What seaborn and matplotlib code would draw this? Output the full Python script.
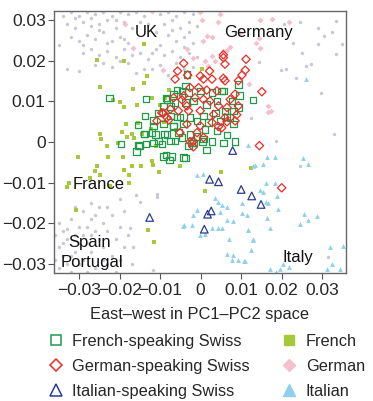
import numpy as np
import pandas as pd
import matplotlib
matplotlib.use("Agg")
import matplotlib.pyplot as plt
import seaborn as sns
from matplotlib.lines import Line2D

# all coordinates in units of 0.001 (PC1-PC2 space)
gray_pts = [
    (-34, 31), (-32, 32), (-30, 31), (-28, 32), (-26, 31.5), (-24, 32), (-22, 31), (-20, 32), (-18, 31.5),
    (-16, 32), (-14, 31), (-10, 31.5), (-8, 32), (-6, 31), (-4, 32), (-2, 31.5),
    (-33, 29), (-31, 28), (-29, 29.5), (-27, 28.5), (-25, 29), (-23, 30), (-21, 28), (-19, 29.5), (-17, 28),
    (-15, 29.5), (-9, 29), (-7, 30), (-5, 28), (-3, 29.5), (-1, 28.5),
    (-32, 26), (-30, 25), (-28, 26.5), (-26, 25.5), (-24, 27), (-22, 25), (-20, 26), (-18, 24.5), (-8, 26.5),
    (-6, 25), (-4, 26), (-2, 24.5), (-10, 24),
    (-29, 22), (-27, 23), (-25, 21.5), (-23, 22.5), (-21, 21), (-19, 23), (-17, 21.5), (-15, 22), (-13, 20.5),
    (-11, 23), (-9, 21.5), (-7, 22.5), (-5, 21), (-3, 22),
    (-26, 19), (-22, 18.5), (-18, 19.5), (-14, 18), (-10, 19), (-6, 19.5), (-2, 18.5), (-16, 17), (-8, 16.5),
    (-33, 18), (-30, 17.5), (-35, 24),
    (-31, 30.5), (-27, 30.5), (-21, 30), (-13, 29), (-11, 27), (-7, 27.5), (-3, 27), (-25, 27.5), (-29, 24),
    (-23, 24.5), (-19, 25.5), (-12, 22), (-4, 23.5), (-1, 21), (-20, 20), (-24, 19.5), (-12, 18), (-4, 18),
    (20.6, 29.2), (24.4, 29.5), (28.9, 28.2), (33.5, 29.9), (22.8, 24.5), (30.5, 26.2), (28.9, 24.1), (35, 24.2),
    (33.5, 21.7), (26, 18.8), (27.3, 19.2), (19.9, 17.8), (21.1, 18), (23.6, 15.9), (29.8, 12.2), (12.5, 6),
    (14.5, 19.6), (33, 1.9), (18.6, 0.3), (25, 21.9), (32.4, 27.2), (24.4, -5.9), (31.4, -28.3),
    (-35, -20), (-34, -22), (-33, -24), (-35, -26), (-34, -28), (-33, -30), (-35, -31), (-32, -32), (-31, -27),
    (-30, -25), (-29, -23), (-28, -21), (-27, -19), (-29, -17), (-27, -15), (-25, -16), (-26, -18), (-24, -20),
    (-23, -22), (-25, -24), (-24, -26), (-22, -28), (-23, -30), (-21, -32), (-20, -29), (-19, -26), (-21, -24),
    (-20, -21), (-22, -18), (-19, -17), (-18, -23), (-17, -30), (-32, -19), (-30, -21), (-31, -23), (-28, -25),
    (-27, -27), (-29, -29), (-26, -31), (-28, -32), (-33, -21.5), (-34, -25), (-32, -28), (-30, -30), (-36, -29),
    (-36, -23), (-26, -22), (-24, -29), (-31, -16), (-20, -14), (-23, -16), (-27, -23),
    (-16, -13), (-14.9, -14.7), (-17.4, -21.2), (-16.6, -25.9), (-11.7, -31.6), (-10.8, -12.7), (-10.8, -13.5),
]

pink_pts = [
    (-0.1, 32.1), (4.8, 31.5), (4.4, 29.5), (1.5, 26.2), (2.8, 25.8), (0.7, 24.9), (1.1, 20), (3.6, 20),
    (5.6, 22.5), (7.3, 23.3), (-1.8, 20.8), (1.9, 18.8), (-3.4, 22.9), (-12, 32.2), (-18.6, 29.1),
    (-16.6, 23.1), (-9.2, 17.8), (0.3, 30.1), (9.8, 26.8), (14.7, 30.1), (17.6, 30.3), (21.7, 29.7),
    (14.3, 25.6), (13.7, 24.4), (14.7, 23.1), (6.5, 22.7), (2.8, 21.1), (16.7, 7.5), (12, 14.2),
    (16.6, 8.9), (17.4, 7.7),
]

french_pts = [
    (-14.1, 24.1), (-25.5, 20.2), (-18.9, 20), (-24.8, 13.6), (-16.6, 13), (-13.9, 14.6), (-13.3, 16.3),
    (-21.6, 10.3), (-19.9, 9.95), (-18.9, 8.6), (-15.6, 9.2), (-11.9, 10.8), (-7.9, 12.8), (-8.8, 10.8),
    (-15.4, 4.8), (-19.3, 2.5), (-18.1, 1.2), (-24.8, 1.9), (-24.6, 0.7), (-16.4, 0.9), (-14.4, 1.9),
    (-12.3, 3.1), (-20.5, -0.2), (-23, -1), (-30.3, -3.6), (-22.8, -3.6), (-25.6, -5.9), (-26, -7.2),
    (-24.8, -8.1), (-27.3, -9), (-32.6, -10.2), (-33, -11), (-22.3, -10.9), (-19.1, -3.6), (-18.9, -6.9),
    (-17.8, -8.1), (-17, -5.9), (-17.8, -10.2), (-14.8, -5.9), (-12, -4.6), (-11.7, -5.7), (-10.2, -7.3),
    (-5, -5.9), (-30.7, -16.8), (-12.9, -21.7), (-11.5, -24.6), (5, -7.5), (1.1, -12), (12.5, -6.5),
    (0.3, 17.9), (-10, 9), (-9, 5), (-6, 3), (-11, -1), (-17, 2), (-18.5, 4.5),
]

italian_pts = [
    (0.7, -8), (-0.9, -8.1), (3.6, -13.9), (4.4, -14.7), (5.2, -15.6), (6.5, -16), (4.8, -17.2), (-0.9, -16.8),
    (-1.8, -18), (-4.2, -20.5), (-2.2, -20.5), (-0.1, -23), (1.1, -22.8), (2.8, -21.3), (4.4, -21.1),
    (5.2, -21.1), (6.5, -19.3), (8.1, -19.4), (10.2, -15.1), (10.2, -17.6), (11.4, -18), (11.6, -21.7),
    (7, -23.8), (6.6, -27.7), (8.1, -27.9), (7.7, -29.1), (9.3, -29.1), (10.6, -29.3), (14.7, -11.9),
    (16.2, -10.2), (18.4, -10.2), (18.8, -13.3), (16.7, -15), (19.2, -16.4), (13.5, -5.7), (16.3, -3.8),
    (18.4, -3.8), (11.6, -0.7), (16.3, -18.8), (17.2, -21.1), (11.8, -21.7), (13, -24), (11, -29.3),
    (17.2, -31.4), (21.7, -30.8), (24.6, -20.1), (26.6, -19.3), (25.4, -17.8), (28.7, -18.3), (25.2, -4),
    (26.6, -5.4), (32, -26), (35.1, -25.7), (31.2, -31.2), (32.4, -30), (34.3, -31.2), (15.4, -5.4),
    (12.9, -5.9), (15.4, -12.3), (16.2, -14.7), (12.9, -24.2), (12.5, -26.7), (19.5, -31.2), (20.3, -30),
    (26, 15.5), (-4.4, -20.7), (18.5, -32),
]

fr_swiss_pts = [
    (-22.5, 10.9), (-13.5, 10.6), (-8.6, 10.9), (-7.5, 8.7), (-13.7, 6.4), (-11.7, 5.3), (-15.5, 4.2), (-14, 2),
    (-12, 2.3), (-19.7, -0.5), (-15.4, -0.9), (-13.5, -0.5), (-9.6, -0.5), (-8.9, 2), (-6.7, 3.8), (-5.9, 6.2),
    (-5.9, 12.8), (-3.4, 16.7), (9.3, 14.2), (5.2, 12.6), (2.8, 12.2), (-0.1, 12.6), (-3, 12.2), (-4.6, 12.6),
    (-6.7, 11.8), (-8.3, 10.5), (7.7, 10.1), (4, 10.1), (1.5, 9.3), (-1.8, 10.1), (-3.8, 9.7), (-6.3, 9.7),
    (-9.2, 8.9), (-10.4, 7.2), (-7.5, 6.4), (-5.1, 6.2), (-2.6, 6), (0.7, 6.4), (3.6, 7.2), (6, 7.7), (7.3, 6),
    (8.1, 4.4), (4.8, 5.2), (1.9, 4.8), (-0.9, 5.2), (-4.2, 4.4), (-6.7, 4), (-9.2, 4.4), (-11.7, 4),
    (-11.2, 1.9), (-8.3, 1.9), (-5.5, 2.3), (-2.6, 1.9), (1.1, 3.1), (4, 2.7), (0.7, 0.7), (-2.2, -0.2),
    (-4.6, 1.1), (-7.5, 0.2), (-10.4, 0.2), (12.9, 10.3), (-3.8, 13.8), (5.6, 12.6), (9.6, 11.4), (9.3, 8.5),
    (8.1, 7.7), (6.5, 6.2), (6.5, 1.7), (8.5, 0.1), (5.6, -0.3), (2.8, 0.1), (0.5, 0.1), (-0.9, 1.3),
    (-11.7, -0.2), (-6.3, 0.3), (-8.5, -3.2), (-7.7, -4.4), (-7.1, -3.6), (-4.2, -3.8), (-1.8, -0.3),
    (1.5, -2), (-3, -1), (-3.8, -4), (-9.2, -3.6), (-15.1, -1), (-15.8, -2.4), (-13.8, 2.0),
]

de_swiss_pts = [
    (-4.2, 19.4), (2.2, 17.5), (5.6, 20.8), (6, 19.2), (11.2, 20.4), (11, 17.7), (-5.7, 17.5), (-0.1, 16.3),
    (0.7, 15.5), (2.8, 15.5), (6, 15.1), (9.3, 15.1), (8.5, 11.8), (9.3, 8.9), (7.3, 10.5), (-6.3, 15.5),
    (-2.6, 13.4), (-0.5, 13.4), (1.5, 12.8), (4, 12.6), (-4.2, 11.4), (-1.4, 10.9), (0.7, 10.5), (2.3, 10.1),
    (4.4, 8.9), (6.5, 8.5), (8.5, 5.2), (6, 6), (3.2, 6.8), (-0.1, 7.7), (-3, 7.7), (-5.5, 7.7), (-9.6, 7.2),
    (-7.5, 8.1), (-10.8, 5.2), (-8.3, 6), (-3.4, 4.4), (-0.1, 4), (2.8, 4.8), (5.2, 3.5), (-0.9, 2.3),
    (-5.1, 2.3), (-1.8, 0.2), (0.7, 1.1), (5.6, 21.5), (10.2, 16.5), (15.1, 12.4), (8.9, 6.7), (6.5, 5),
    (4.4, 3.8), (-2.6, 0.1), (-1.8, -1.2), (5.6, 15.7), (-3.2, 16.5), (-6.7, 10.9), (-4.6, 10.4),
    (-3.4, 8.9), (-9.2, 7.1), (-7.9, 5.4), (14.5, -0.9), (20, -11.3),
]

it_swiss_pts = [
    (7.9, -2.1), (2.2, -9.2), (4.4, -9.8), (10, -11.7), (12.6, -13.3), (14.9, -15.4), (2.6, -17),
    (1.7, -17.8), (0.9, -21.5), (-12.6, -18.6),
]

region_names = ["UK", "Germany", "France", "Spain", "Portugal", "Italy"]
region_pos = [(-13.4, 26.9), (14.2, 26.9), (-25.2, -10.4), (-27.3, -24.7), (-26.8, -29.6), (24.1, -28.6)]

legend_labels = ["French-speaking Swiss", "German-speaking Swiss", "Italian-speaking Swiss",
                 "French", "German", "Italian"]


def to_df(pts):
    a = np.array(pts, dtype=float) / 1000.0
    return pd.DataFrame({"x": a[:, 0], "y": a[:, 1]})


sns.set_style("white")
plt.rcParams["font.family"] = ["Liberation Sans", "DejaVu Sans"]

fig = plt.figure(figsize=(3.73, 4.01), dpi=100)
ax = fig.add_axes([0.1448, 0.3192, 0.782, 0.6534])

c_gray = "#c6c8d6"
c_pink = "#f6bfcc"
c_french = "#a6c83a"
c_italian = "#8fd0ec"
c_green = "#1f9a48"
c_red = "#ec2d25"
c_blue = "#2b3a94"

sns.scatterplot(data=to_df(gray_pts), x="x", y="y", ax=ax, marker="o", s=6,
                color=c_gray, linewidth=0, legend=False)
sns.scatterplot(data=to_df(pink_pts), x="x", y="y", ax=ax, marker="D", s=9,
                color=c_pink, linewidth=0, legend=False)
sns.scatterplot(data=to_df(french_pts), x="x", y="y", ax=ax, marker="s", s=9,
                color=c_french, linewidth=0, legend=False)
sns.scatterplot(data=to_df(italian_pts), x="x", y="y", ax=ax, marker="^", s=12,
                color=c_italian, linewidth=0, legend=False)
sns.scatterplot(data=to_df(fr_swiss_pts), x="x", y="y", ax=ax, marker="s", s=22,
                color=c_green, facecolors="none", edgecolor=c_green, linewidth=0.9, legend=False)
sns.scatterplot(data=to_df(de_swiss_pts), x="x", y="y", ax=ax, marker="D", s=18,
                color=c_red, facecolors="none", edgecolor=c_red, linewidth=0.9, legend=False)
sns.scatterplot(data=to_df(it_swiss_pts), x="x", y="y", ax=ax, marker="^", s=30,
                color=c_blue, facecolors="none", edgecolor=c_blue, linewidth=0.9, legend=False)

for name, (px, py) in zip(region_names, region_pos):
    ax.text(px / 1000.0, py / 1000.0, name, ha="center", va="center", fontsize=12, color="#111111")

ax.set_xlim(-0.0362, 0.0358)
ax.set_ylim(-0.0323, 0.0323)
ticks = [-0.03, -0.02, -0.01, 0, 0.01, 0.02, 0.03]
tick_labels = ["\u22120.03", "\u22120.02", "\u22120.01", "0", "0.01", "0.02", "0.03"]
ax.set_xticks(ticks, tick_labels)
ax.set_yticks(ticks, tick_labels)
ax.tick_params(axis="both", direction="out", length=4, width=0.8, color="#555555",
               pad=2, bottom=True, left=True)
ax.tick_params(axis="x", labelsize=12.5, pad=3)
ax.tick_params(axis="y", labelsize=12.5)
for sp in ax.spines.values():
    sp.set_color("#666666")
    sp.set_linewidth(1.0)
ax.set_xlabel("East\u2013west in PC1\u2013PC2 space", fontsize=11.8, labelpad=7)
ax.set_ylabel("")

handles = [
    Line2D([], [], ls="none", marker="s", ms=7, mfc="none", mec=c_green, mew=1.1),
    Line2D([], [], ls="none", marker="D", ms=6.5, mfc="none", mec=c_red, mew=1.1),
    Line2D([], [], ls="none", marker="^", ms=8, mfc="none", mec=c_blue, mew=1.1),
    Line2D([], [], ls="none", marker="s", ms=7, mfc=c_french, mec=c_french),
    Line2D([], [], ls="none", marker="D", ms=6.5, mfc=c_pink, mec=c_pink),
    Line2D([], [], ls="none", marker="^", ms=8, mfc=c_italian, mec=c_italian),
]
fig.legend(handles, legend_labels, ncol=2, loc="upper left", bbox_to_anchor=(0.128, 0.168),
           frameon=False, fontsize=11.8, handlelength=1.0, handletextpad=0.5,
           columnspacing=1.9, labelspacing=0.62, borderpad=0, borderaxespad=0)

fig.savefig("out.png", dpi=100)
